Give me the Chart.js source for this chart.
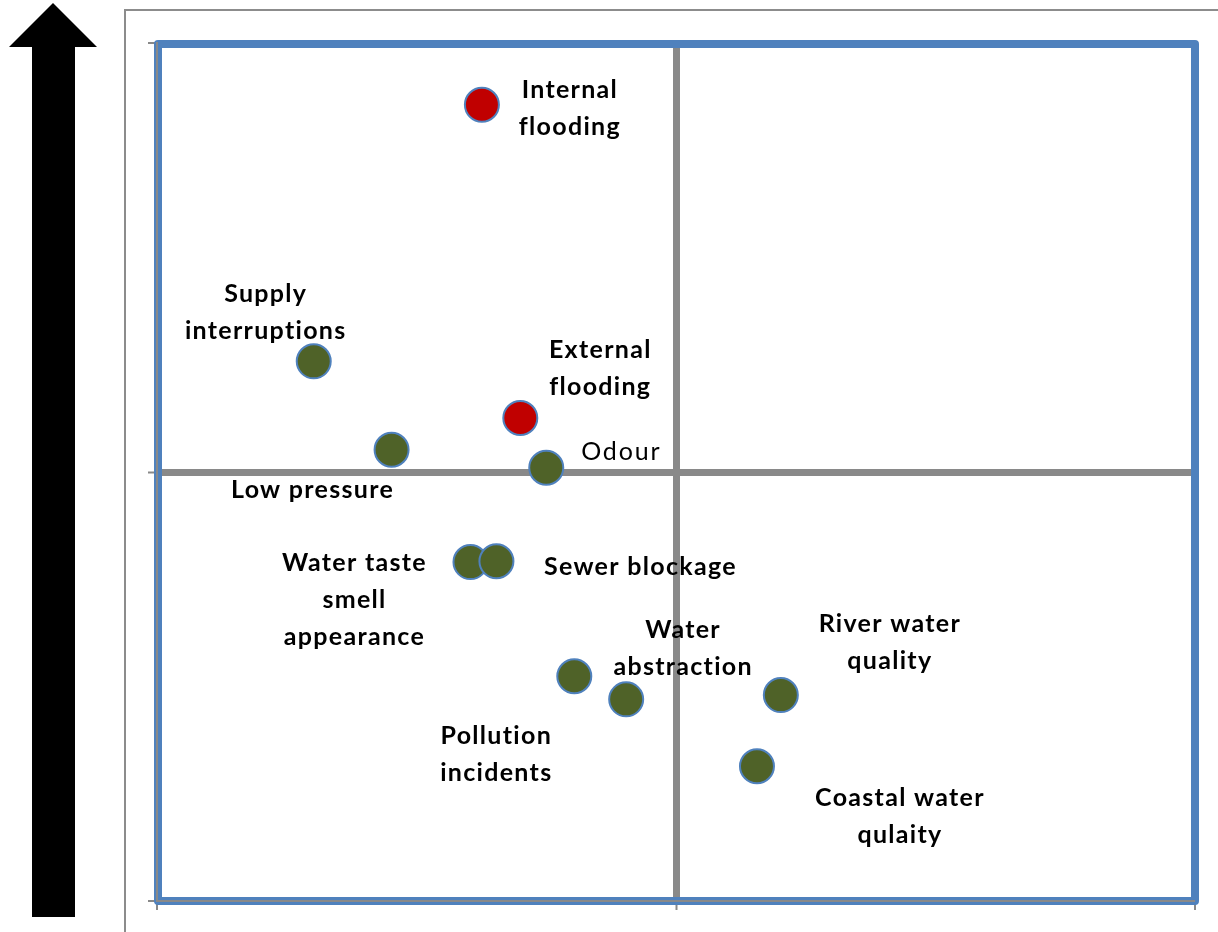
<!DOCTYPE html>
<html>
<head>
<meta charset="utf-8">
<title>Service measures matrix</title>
<script src="https://cdn.jsdelivr.net/npm/chart.js@4.4.0/dist/chart.umd.min.js"></script>
<style>
    body { margin: 0; background: #fff; }
    #wrap { position: relative; width: 1218px; height: 932px; overflow: hidden; }
    #frame {
        position: absolute; left: 124px; top: 9px; width: 1200px; height: 1000px;
        border-top: 2px solid #8c8c8c; border-left: 2px solid #8c8c8c;
    }
    #arrow { position: absolute; left: 0; top: 0; }
    #chart { position: absolute; left: 0; top: 0; }
</style>
</head>
<body>
<div id="wrap">
    <div id="frame"></div>
    <svg id="arrow" width="110" height="932">
        <polygon points="53,3 97,47 75,47 75,917 32,917 32,47 9,47" fill="#000"/>
    </svg>
    <canvas id="chart" width="1218" height="932"></canvas>
</div>
<script>
// Red measures (flooding)
const redNames = ['Internal\nflooding', 'External\nflooding'];
const redX = [31.3, 35.0];
const redY = [92.8, 56.3];

// Green measures
const greenNames = [
    'Supply\ninterruptions',
    'Low pressure',
    'Odour',
    'Water taste\nsmell\nappearance',
    'Sewer blockage',
    'Pollution\nincidents',
    'Water\nabstraction',
    'River water\nquality',
    'Coastal water\nqulaity'
];
const greenX = [15.1, 22.6, 37.5, 30.2, 32.7, 40.2, 45.2, 60.1, 57.8];
const greenY = [62.9, 52.6, 50.5, 39.5, 39.6, 26.2, 23.5, 24.0, 15.7];

// Axis ticks (no labels shown, only marks)
const tickValues = [0, 50, 100];

// Label placement, pixels from the point centre (first line)
const redLabelOffsets = [[88, -15], [80, -68]];
const greenLabelOffsets = [
    [-48, -67], [-79, 40], [75, -16], [-116, 1], [144, 6],
    [-78, 60], [57, -69], [109, -71], [143, 32]
];
const greenLabelBold = [true, true, false, true, true, true, true, true, true];

const toPoints = (xs, ys) => xs.map((x, i) => ({ x: x, y: ys[i] }));

const GREY = '#898989';
const BLUE = '#4F81BD';

const boxPlugin = {
    id: 'blueBox',
    beforeDatasetsDraw(chart) {
        const a = chart.chartArea;
        const ctx = chart.ctx;
        ctx.save();
        ctx.strokeStyle = BLUE;
        ctx.lineWidth = 8;
        ctx.lineJoin = 'round';
        ctx.strokeRect(a.left + 1, a.top + 1, a.right - a.left - 1, a.bottom - a.top - 1);
        ctx.restore();
    }
};

const labelPlugin = {
    id: 'pointLabels',
    afterDatasetsDraw(chart) {
        const ctx = chart.ctx;
        const sets = [
            { names: redNames, offsets: redLabelOffsets, bold: redNames.map(() => true) },
            { names: greenNames, offsets: greenLabelOffsets, bold: greenLabelBold }
        ];
        ctx.save();
        ctx.fillStyle = '#000';
        ctx.textAlign = 'center';
        ctx.textBaseline = 'middle';
        sets.forEach((set, di) => {
            chart.getDatasetMeta(di).data.forEach((pt, i) => {
                const lines = set.names[i].split('\n');
                ctx.font = (set.bold[i] ? 'bold ' : '') + '25px Lato, "Open Sans", sans-serif';
                ctx.letterSpacing = set.bold[i] ? '1.3px' : '1.8px';
                lines.forEach((line, li) => {
                    ctx.fillText(line, pt.x + set.offsets[i][0], pt.y + set.offsets[i][1] + li * 37);
                });
            });
        });
        ctx.restore();
    }
};

const axisOptions = (horizontal) => ({
    type: 'linear',
    min: 0,
    max: 100,
    afterBuildTicks: (scale) => { scale.ticks = tickValues.map(v => ({ value: v })); },
    afterFit: (scale) => {
        if (horizontal) scale.height = 10; else scale.width = 10;
    },
    ticks: { display: false },
    grid: {
        color: GREY,
        lineWidth: (ctx) => ctx.tick && ctx.tick.value === 50 ? 7 : 0,
        drawTicks: true,
        tickLength: 9,
        tickWidth: 2,
        tickColor: GREY
    },
    border: { display: true, color: GREY, width: 2, z: 1 }
});

new Chart(document.getElementById('chart'), {
    type: 'scatter',
    data: {
        datasets: [
            {
                label: 'Flooding',
                data: toPoints(redX, redY),
                backgroundColor: '#C00000',
                borderColor: BLUE,
                borderWidth: 2,
                pointRadius: 17,
                pointHoverRadius: 17
            },
            {
                label: 'Other measures',
                data: toPoints(greenX, greenY),
                backgroundColor: '#4F6228',
                borderColor: BLUE,
                borderWidth: 2,
                pointRadius: 17,
                pointHoverRadius: 17
            }
        ]
    },
    options: {
        responsive: false,
        animation: false,
        layout: { padding: { left: 147, top: 43, right: 23, bottom: 21 } },
        plugins: {
            legend: { display: false },
            tooltip: { enabled: false }
        },
        scales: {
            x: axisOptions(true),
            y: axisOptions(false)
        }
    },
    plugins: [boxPlugin, labelPlugin]
});
</script>
</body>
</html>
